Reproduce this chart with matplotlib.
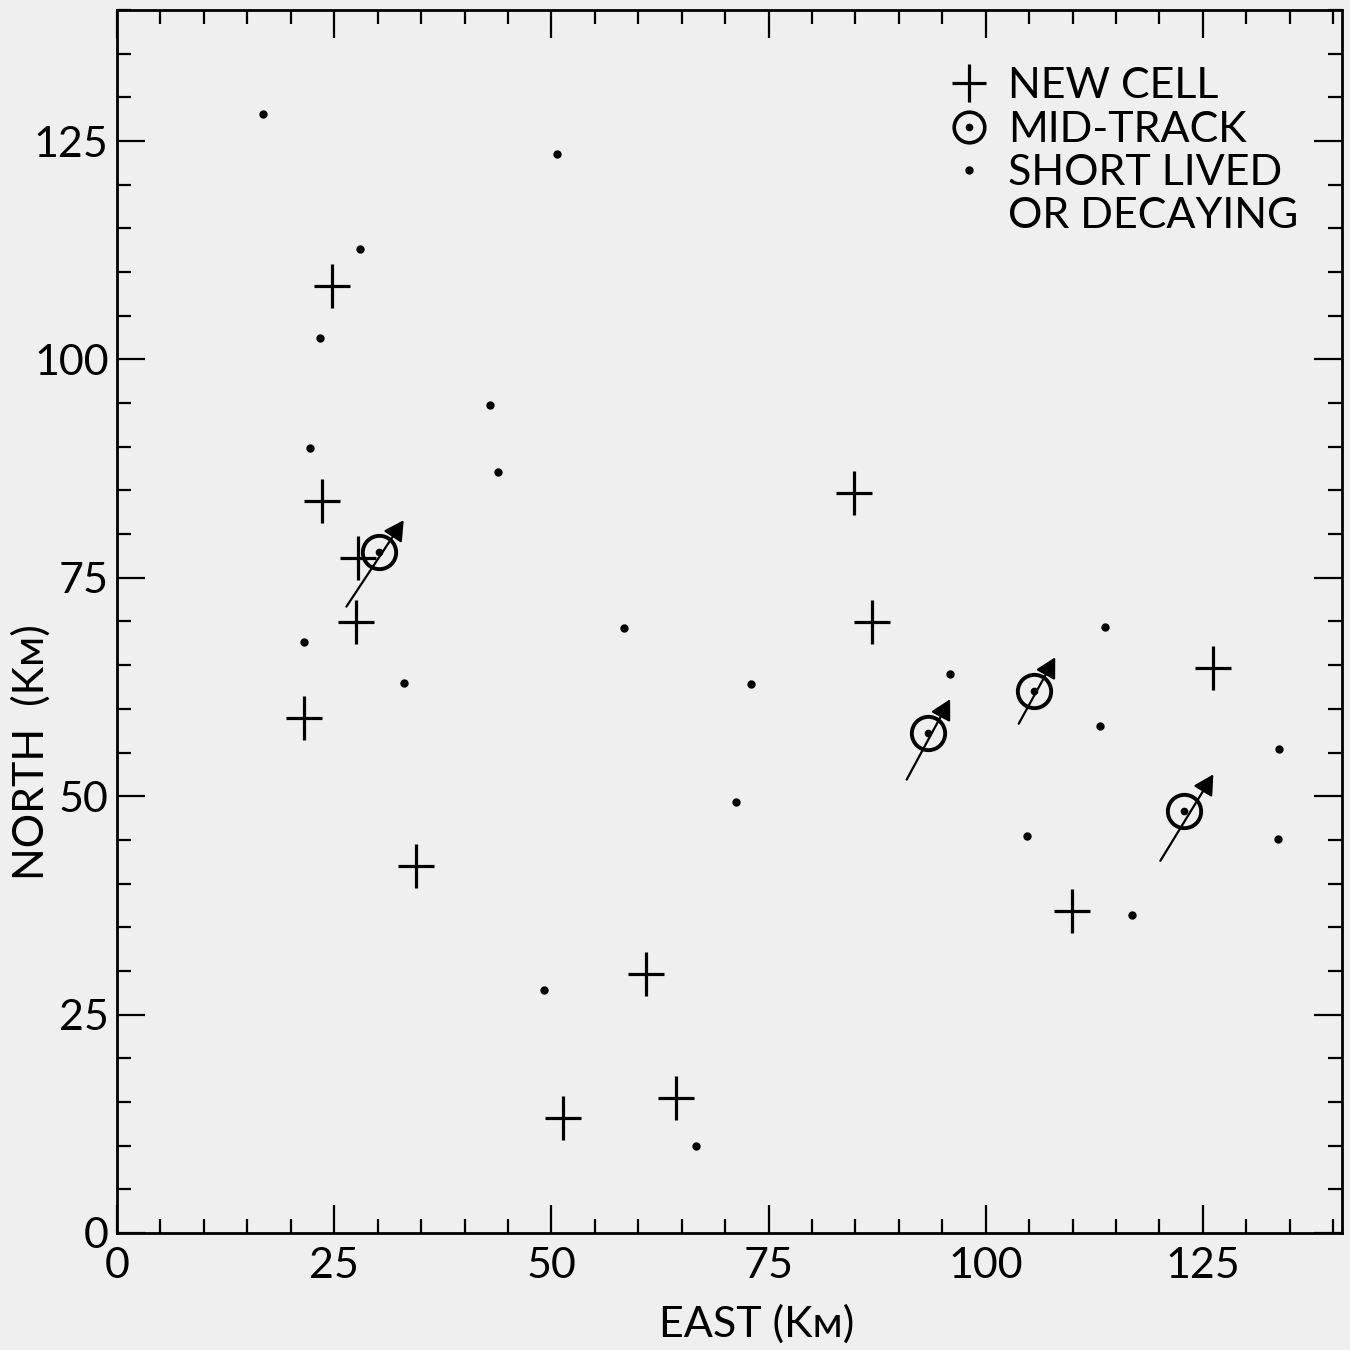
import matplotlib
matplotlib.use("Agg")
import matplotlib.pyplot as plt
from matplotlib.lines import Line2D
from matplotlib.legend_handler import HandlerTuple
from matplotlib.ticker import MultipleLocator

plt.rcParams['font.family'] = ['Lato', 'DejaVu Sans']
plt.rcParams['font.weight'] = 'normal'

# --- data (km) ---
new_cell_x = [24.7, 23.6, 27.7, 27.5, 21.5, 34.4, 60.9, 64.3, 51.3, 84.8, 86.9, 109.9, 126.2]
new_cell_y = [108.4, 83.8, 77.3, 69.9, 58.9, 42.0, 29.6, 15.5, 13.2, 84.7, 69.9, 36.9, 64.7]

mid_track_x = [30.2, 93.3, 105.5, 122.8]
mid_track_y = [77.9, 57.2, 62.0, 48.3]
track_tail_x = [26.4, 90.9, 103.8, 120.1]
track_tail_y = [71.7, 51.9, 58.3, 42.6]
track_head_x = [33.0, 95.9, 108.0, 126.2]
track_head_y = [81.6, 61.1, 65.9, 52.5]

short_x = [16.8, 50.7, 28.0, 23.4, 42.9, 43.9, 22.2, 21.5, 33.0, 58.4, 73.0, 71.3,
           49.2, 66.6, 95.9, 113.7, 113.2, 104.8, 116.8, 133.8, 133.7]
short_y = [128.1, 123.5, 112.6, 102.4, 94.8, 87.1, 89.9, 67.7, 63.0, 69.2, 62.8, 49.3,
           27.8, 9.9, 64.0, 69.4, 58.0, 45.4, 36.4, 55.4, 45.1]

x_ticks = [0, 25, 50, 75, 100, 125]
y_ticks = [0, 25, 50, 75, 100, 125]
x_label = "EAST (K\u1d0d)"
y_label = "NORTH  (K\u1d0d)"
legend_labels = ["NEW CELL", "MID-TRACK", "SHORT LIVED", "OR DECAYING"]

bg = '#efefef'
fig = plt.figure(figsize=(13.5, 13.5), dpi=100, facecolor=bg)
ax = fig.add_axes([0.0867, 0.0867, 0.9073, 0.9059])
ax.set_facecolor(bg)

# tracks (arrows)
for x0, y0, x1, y1 in zip(track_tail_x, track_tail_y, track_head_x, track_head_y):
    ax.annotate('', xy=(x1, y1), xytext=(x0, y0),
                arrowprops=dict(arrowstyle='-|>,head_length=0.55,head_width=0.3',
                                lw=1.6, color='black', shrinkA=0, shrinkB=0,
                                mutation_scale=22))

# new cells (plus)
ax.plot(new_cell_x, new_cell_y, ls='none', marker='|', ms=31, mew=2.3, color='black')
ax.plot(new_cell_x, new_cell_y, ls='none', marker='_', ms=26, mew=2.3, color='black')

# mid-track (circled dot)
ax.plot(mid_track_x, mid_track_y, ls='none', marker='o', ms=24, mfc='none', mew=2.8, color='black')
ax.plot(mid_track_x, mid_track_y, ls='none', marker='o', ms=4.5, color='black')

# short lived
ax.plot(short_x, short_y, ls='none', marker='o', ms=5, color='black')

ax.set_xlim(0, 141)
ax.set_ylim(0, 140)
ax.set_xticks(x_ticks)
ax.set_yticks(y_ticks)
ax.xaxis.set_minor_locator(MultipleLocator(5))
ax.yaxis.set_minor_locator(MultipleLocator(5))
ax.tick_params(which='both', direction='in', top=True, right=True, width=1.6, colors='black')
ax.tick_params(which='major', length=20, labelsize=31)
ax.tick_params(which='minor', length=10)
ax.tick_params(axis='x', which='major', pad=10)
ax.tick_params(axis='y', which='major', pad=6)
for s in ax.spines.values():
    s.set_linewidth(2.0)
    s.set_color('black')

ax.set_xlabel(x_label, fontsize=31)
ax.set_ylabel(y_label, fontsize=31)
ax.xaxis.set_label_coords(0.522, -0.058)
ax.yaxis.set_label_coords(-0.054, 0.393)

# legend
h_plus = (Line2D([], [], ls='none', marker='|', ms=27, mew=2.3, color='black'),
          Line2D([], [], ls='none', marker='_', ms=24, mew=2.3, color='black'))
h_circ = (Line2D([], [], ls='none', marker='o', ms=22, mfc='none', mew=2.6, color='black'),
          Line2D([], [], ls='none', marker='o', ms=4.5, color='black'))
h_dot = Line2D([], [], ls='none', marker='o', ms=5, color='black')
h_blank = Line2D([], [], ls='none', marker=None, color='none')
leg = ax.legend([h_plus, h_circ, h_dot, h_blank], legend_labels,
                handler_map={tuple: HandlerTuple(ndivide=1, pad=0)},
                loc='upper left', bbox_to_anchor=(0.678, 0.953), frameon=False,
                fontsize=31, handlelength=1.0, handletextpad=0.4,
                labelspacing=0.12, borderpad=0, borderaxespad=0)

fig.savefig('out.png', dpi=100, facecolor=bg)
